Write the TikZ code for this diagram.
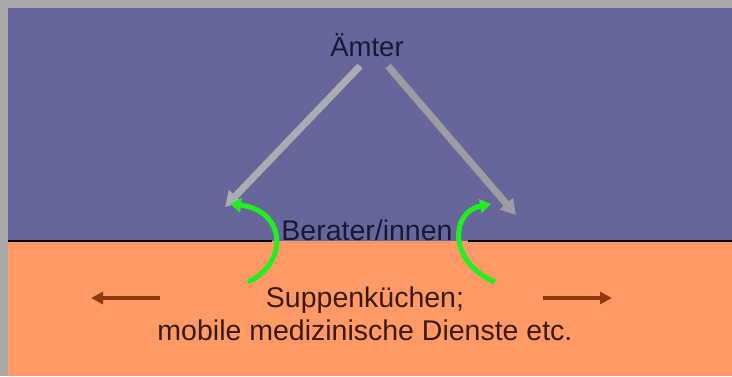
\documentclass[tikz,border=0pt]{standalone}
\usepackage{fontspec}
\setmainfont{Liberation Sans}
\usetikzlibrary{arrows.meta}
\definecolor{bordergray}{HTML}{A9A9A9}
\definecolor{purp}{HTML}{67669A}
\definecolor{orng}{HTML}{FF9966}
\definecolor{arrgrayL}{HTML}{ABABB2}
\definecolor{arrgrayR}{HTML}{9C9CA2}
\definecolor{grn}{HTML}{22EE22}
\definecolor{brwn}{HTML}{8E3A0E}
\definecolor{txtdark}{HTML}{1A1838}
\definecolor{txtbrown}{HTML}{3A1A10}
\tikzset{
  lbl/.style={font=\fontsize{28.5}{32}\selectfont, inner sep=0pt},
  grayarr/.style={line width=7pt, -{Triangle[length=15pt,width=17pt]}},
  grnarr/.style={draw=grn, line width=5pt, -{Triangle[length=11pt,width=14pt]}},
  brnarr/.style={draw=brwn, line width=4.5pt, -{Triangle[length=12pt,width=12pt]}}
}
\begin{document}
\begin{tikzpicture}[x=1pt,y=-1pt]
\useasboundingbox (0,0) rectangle (732,376);
\fill[bordergray] (0,0) rectangle (732,376);
\fill[purp] (8,8) rectangle (732,241);
\fill[orng] (8,241) rectangle (732,376);
\coordinate (l1) at (8,241);
\coordinate (l2) at (272,241);
\coordinate (r1) at (468,241);
\coordinate (r2) at (732,241);
\draw[line width=2.5pt, black] (l1) -- (l2);
\draw[line width=2.5pt, black] (r1) -- (r2);
\node[lbl, text=txtdark, font=\fontsize{27.5}{32}\selectfont] (amt) at (367,45) {Ämter};
\node[lbl, text=txtdark] (ber) at (367,230) {Berater/innen};
\node[lbl, text=txtbrown, align=center, font=\fontsize{28.5}{33}\selectfont] (sup) at (365,314) {Suppenküchen;\\mobile medizinische Dienste etc.};
\coordinate (ga1) at (360,66);
\coordinate (ga2) at (225,207);
\coordinate (gb1) at (388,66);
\coordinate (gb2) at (516,215);
\draw[grayarr, draw=arrgrayL, fill=arrgrayL] (ga1) -- (ga2);
\draw[grayarr, draw=arrgrayR, fill=arrgrayR] (gb1) -- (gb2);
\coordinate (gl1) at (248,282);
\coordinate (gl2) at (230,204);
\coordinate (gr1) at (495,282);
\coordinate (gr2) at (491,204);
\draw[grnarr] (gl1) .. controls (290,262) and (285,210) .. (gl2);
\draw[grnarr] (gr1) .. controls (448,262) and (450,212) .. (gr2);
\coordinate (bl1) at (160,298);
\coordinate (bl2) at (91,298);
\coordinate (br1) at (543,298);
\coordinate (br2) at (612,298);
\draw[brnarr] (bl1) -- (bl2);
\draw[brnarr] (br1) -- (br2);
\end{tikzpicture}
\end{document}
